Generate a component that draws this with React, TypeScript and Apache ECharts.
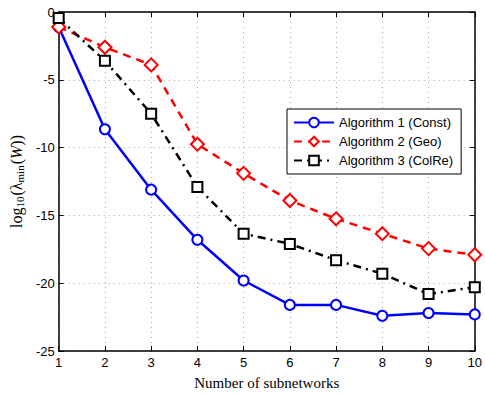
import React, { useEffect, useRef } from "react";
import * as echarts from "echarts";

const subnetworks = [1, 2, 3, 4, 5, 6, 7, 8, 9, 10];
const alg1Const = [-1.1, -8.65, -13.1, -16.8, -19.8, -21.6, -21.6, -22.4, -22.2, -22.3];
const alg2Geo = [-1.1, -2.6, -3.9, -9.75, -11.9, -13.9, -15.25, -16.35, -17.45, -17.9];
const alg3ColRe = [-0.45, -3.6, -7.5, -12.9, -16.35, -17.1, -18.3, -19.3, -20.8, -20.3];
const seriesNames = ["Algorithm 1 (Const)", "Algorithm 2 (Geo)", "Algorithm 3 (ColRe)"];

export default function App() {
  const ref = useRef<HTMLDivElement>(null);
  useEffect(() => {
    if (!ref.current) return;
    const chart = echarts.init(ref.current, null, { renderer: "svg" });
    const pair = (ys: number[]) => subnetworks.map((x, i) => [x, ys[i]]);
    const sans = "Liberation Sans, Arial, sans-serif";
    const serif = "Liberation Serif, DejaVu Serif, serif";
    const baseX = {
      type: "value",
      min: 1,
      max: 10,
      interval: 1,
      axisLine: { show: true, onZero: false, lineStyle: { color: "#000", width: 1.5 } },
      axisTick: { show: true, inside: true, length: 5, lineStyle: { color: "#000" } },
    };
    const baseY = {
      type: "value",
      min: -25,
      max: 0,
      interval: 5,
      axisLine: { show: true, onZero: false, lineStyle: { color: "#000", width: 1.5 } },
      axisTick: { show: true, inside: true, length: 5, lineStyle: { color: "#000" } },
    };
    chart.setOption({
      animation: false,
      backgroundColor: "#fff",
      grid: { left: 55, right: 5, top: 12, bottom: 42, containLabel: false },
      xAxis: [
        {
          ...baseX,
          position: "bottom",
          name: "Number of subnetworks",
          nameLocation: "middle",
          nameGap: 24,
          nameTextStyle: { fontFamily: serif, fontSize: 15, color: "#000" },
          axisLabel: { color: "#000", fontFamily: sans, fontSize: 13, margin: 5 },
          splitLine: { show: true, lineStyle: { color: "#aaa", type: [1, 4], width: 1 } },
        },
        {
          ...baseX,
          position: "top",
          axisLabel: { show: false },
          splitLine: { show: false },
        },
      ],
      yAxis: [
        {
          ...baseY,
          position: "left",
          name: "{n|log}{s|10}{n|(λ}{s|min}{n|(}{i|W}{n|))}",
          nameLocation: "middle",
          nameGap: 27,
          nameRotate: 90,
          nameTextStyle: {
            color: "#000",
            rich: {
              n: { fontFamily: serif, fontSize: 16, color: "#000" },
              i: { fontFamily: serif, fontSize: 16, fontStyle: "italic", color: "#000" },
              s: { fontFamily: serif, fontSize: 11, color: "#000", verticalAlign: "bottom", padding: [7, 1, 0, 0] },
            },
          },
          axisLabel: { color: "#000", fontFamily: sans, fontSize: 13, margin: 4 },
          splitLine: { show: true, lineStyle: { color: "#aaa", type: [1, 4], width: 1 } },
        },
        {
          ...baseY,
          position: "right",
          axisLabel: { show: false },
          splitLine: { show: false },
        },
      ],
      legend: {
        left: 287,
        top: 109,
        orient: "vertical",
        backgroundColor: "#fff",
        borderColor: "#000",
        borderWidth: 1,
        borderRadius: 0,
        padding: [7, 8, 7, 6],
        itemGap: 6,
        itemWidth: 40,
        itemHeight: 12,
        textStyle: { fontFamily: sans, fontSize: 13, color: "#000" },
        data: seriesNames,
      },
      series: [
        {
          name: seriesNames[0],
          type: "line",
          data: pair(alg1Const),
          symbol: "emptyCircle",
          symbolSize: 10,
          lineStyle: { color: "#0000ff", width: 2.5, type: "solid" },
          itemStyle: { color: "#0000ff", borderWidth: 2.5 },
          z: 3,
        },
        {
          name: seriesNames[1],
          type: "line",
          data: pair(alg2Geo),
          symbol: "emptyDiamond",
          symbolSize: 13,
          lineStyle: { color: "#ff0000", width: 2.5, type: [8, 6] },
          itemStyle: { color: "#ff0000", borderWidth: 2.5 },
          z: 4,
        },
        {
          name: seriesNames[2],
          type: "line",
          data: pair(alg3ColRe),
          symbol: "emptyRect",
          symbolSize: 10,
          lineStyle: { color: "#000", width: 2.5, type: [8, 5, 2, 5] },
          itemStyle: { color: "#000", borderWidth: 2.5 },
          z: 5,
        },
      ],
    });
    return () => chart.dispose();
  }, []);
  return (
    <div
      ref={ref}
      style={{ position: "absolute", left: 0, top: 0, width: 485, height: 395 }}
    />
  );
}
